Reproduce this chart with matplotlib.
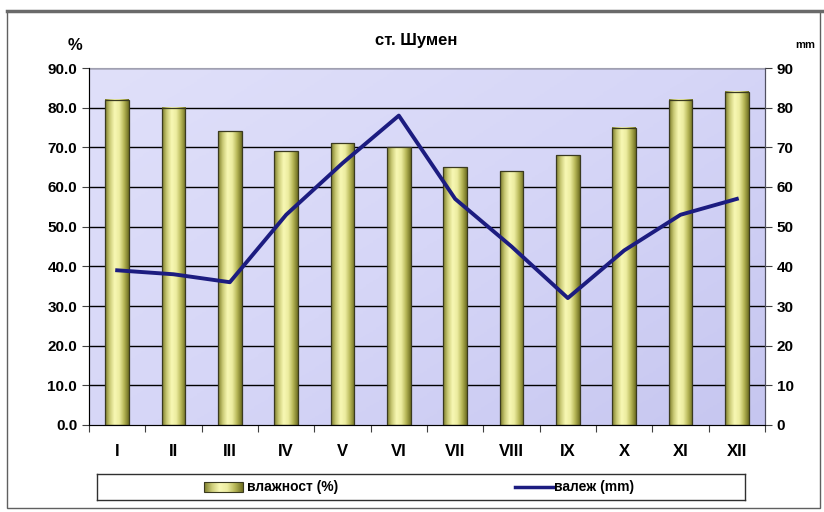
import numpy as np
import matplotlib
matplotlib.use('Agg')
import matplotlib.pyplot as plt
from matplotlib.colors import LinearSegmentedColormap
from matplotlib.patches import Rectangle
from matplotlib.lines import Line2D

plt.rcParams['font.family'] = ['Liberation Sans Narrow', 'Liberation Sans', 'DejaVu Sans']
plt.rcParams['font.weight'] = 'bold'

# data
months = ['I', 'II', 'III', 'IV', 'V', 'VI', 'VII', 'VIII', 'IX', 'X', 'XI', 'XII']
humidity = [82, 80, 74, 69, 71, 70, 65, 64, 68, 75, 82, 84]
precip = [39, 38, 36, 53, 66, 78, 57, 45, 32, 44, 53, 57]

fig = plt.figure(figsize=(8.24, 5.12), dpi=100)

# outer chart frame
fig.patches.append(Rectangle((7 / 824, 4 / 512), 813 / 824, 497 / 512, transform=fig.transFigure,
                             fill=False, edgecolor='#606060', linewidth=1.0, zorder=0))
fig.add_artist(Line2D([7 / 824, 1.0], [1 - 11 / 512, 1 - 11 / 512], transform=fig.transFigure,
                      color='#6a6a6a', linewidth=2.5))

ax = fig.add_axes([89 / 824, 1 - 425 / 512, 676 / 824, 357 / 512])
x = np.arange(len(months))
ax.set_xlim(-0.5, len(months) - 0.5)
ax.set_ylim(0, 90)

# background gradient (lighter top-left, a bit deeper bottom-right)
bg = LinearSegmentedColormap.from_list('bg', ['#e0e0fa', '#d6d6f7', '#c6c6f0'])
gx, gy = np.meshgrid(np.linspace(0, 1, 200), np.linspace(0, 1, 200))
ax.imshow(0.55 * gx + 0.45 * gy, cmap=bg, extent=(-0.5, len(months) - 0.5, 0, 90),
          aspect='auto', origin='upper', zorder=0)

for v in range(10, 91, 10):
    ax.axhline(v, color='black', linewidth=1.0, zorder=1)

# cylinder-like bars
bar_cm = LinearSegmentedColormap.from_list('bar', ['#7d7d2a', '#cccc78', '#f8f8b4', '#ececa0', '#b8b858', '#707022'])
grad = np.linspace(0, 1, 64).reshape(1, -1)
bw = 0.42
for xi, h in zip(x, humidity):
    ax.imshow(grad, cmap=bar_cm, extent=(xi - bw / 2, xi + bw / 2, 0, h), aspect='auto', zorder=2)
    ax.add_patch(Rectangle((xi - bw / 2, 0), bw, h, fill=False, edgecolor='#3a3a20', linewidth=0.9, zorder=3))

ax.set_xticks(np.arange(-0.5, len(months), 1))
ax.set_xticklabels([])
ax.set_xticks(x, minor=True)
ax.set_xticklabels(months, minor=True, fontsize=12, fontweight='bold')
ax.tick_params(axis='x', which='major', length=5, direction='out', color='#404040')
ax.tick_params(axis='x', which='minor', length=0, pad=14)
ax.set_yticks(range(0, 91, 10))
ax.set_yticklabels([f'{v:.1f}' for v in range(0, 91, 10)], fontsize=11, fontweight='bold')
ax.tick_params(axis='y', length=5, direction='out', color='#404040')
for s in ['left', 'bottom', 'right']:
    ax.spines[s].set_color('#505060')
ax.spines['top'].set_color('#a0a0b0')

ax2 = ax.twinx()
ax2.set_ylim(0, 90)
ax2.plot(x, precip, color='#1c1c80', linewidth=2.8, zorder=5)
ax2.set_yticks(range(0, 91, 10))
ax2.set_yticklabels([str(v) for v in range(0, 91, 10)], fontsize=11, fontweight='bold')
ax2.tick_params(axis='y', length=5, direction='out', color='#404040')
ax2.spines['right'].set_color('#505060')
ax2.spines['top'].set_visible(False)

fig.text(416 / 824, 1 - 40 / 512, 'ст. Шумен', ha='center', va='center', fontsize=12, fontweight='bold')
fig.text(75 / 824, 1 - 45 / 512, '%', ha='center', va='center', fontsize=12, fontweight='bold')
fig.text(805 / 824, 1 - 45 / 512, 'mm', ha='center', va='center', fontsize=8, fontweight='bold')

# legend box
lax = fig.add_axes([97 / 824, 1 - 500 / 512, 648 / 824, 26 / 512])
lax.set_xlim(0, 1)
lax.set_ylim(0, 1)
lax.set_xticks([])
lax.set_yticks([])
for s in lax.spines.values():
    s.set_color('#303030')
    s.set_linewidth(1.0)
lax.imshow(grad, cmap=bar_cm, extent=(0.165, 0.225, 0.32, 0.68), aspect='auto')
lax.add_patch(Rectangle((0.165, 0.32), 0.06, 0.36, fill=False, edgecolor='#3a3a20', linewidth=0.8))
lax.text(0.232, 0.5, 'влажност (%)', va='center', ha='left', fontsize=10, fontweight='bold')
lax.plot([0.645, 0.705], [0.5, 0.5], color='#1c1c80', linewidth=2.5)
lax.text(0.705, 0.5, 'валеж (mm)', va='center', ha='left', fontsize=10, fontweight='bold')

fig.savefig('out.png', dpi=100)
